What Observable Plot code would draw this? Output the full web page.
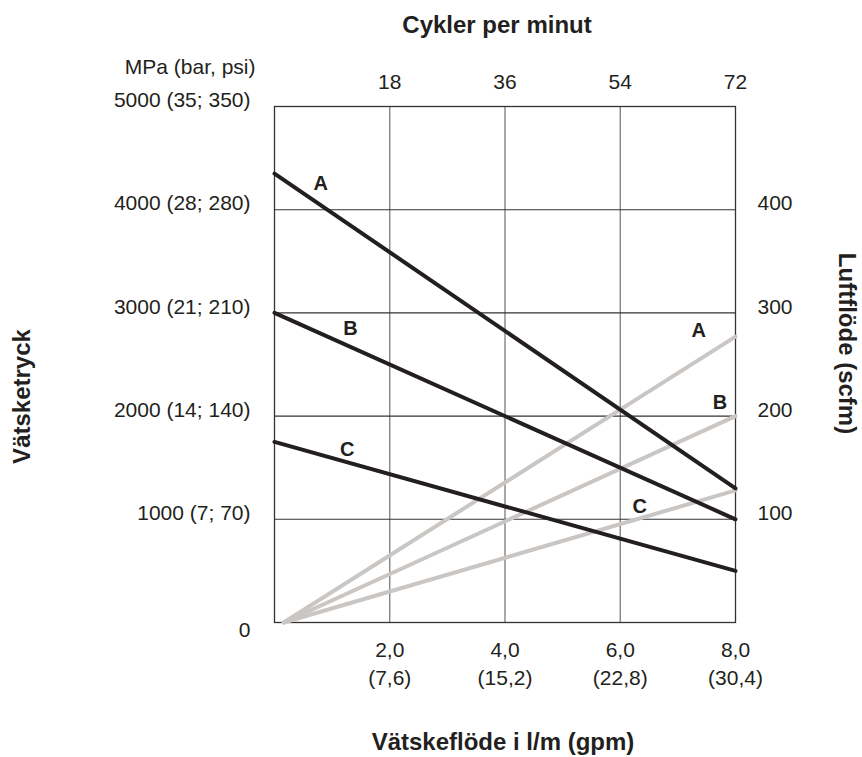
<!DOCTYPE html>
<html>
<head>
<meta charset="utf-8">
<script src="https://cdn.jsdelivr.net/npm/d3@7"></script>
<script src="https://cdn.jsdelivr.net/npm/@observablehq/plot@0.6"></script>
<style>
  html, body { margin: 0; padding: 0; background: #fff; }
  #chart svg { display: block; font-family: "Liberation Sans", Arial, Helvetica, sans-serif; }
</style>
</head>
<body>
<div id="chart"></div>
<script>
// ---- data ----
const flowTicks = [2, 4, 6, 8];
const flowLabels = ["2,0", "4,0", "6,0", "8,0"];
const flowLabelsGpm = ["(7,6)", "(15,2)", "(22,8)", "(30,4)"];
const cycleLabels = ["18", "36", "54", "72"];
const pressureTicks = [0, 1000, 2000, 3000, 4000, 5000];
const pressureLabels = ["0", "1000 (7; 70)", "2000 (14; 140)", "3000 (21; 210)", "4000 (28; 280)", "5000 (35; 350)"];
const airTicks = [100, 200, 300, 400];
const series = ["A", "B", "C"];

// fluid pressure lines (black): flow l/m -> pressure
const pressureFlow = [0, 8];
const pressureA = [4350, 1300];
const pressureB = [3000, 1000];
const pressureC = [1750, 500];

// air flow lines (grey): flow l/m -> scfm
const airFlow = [0.16, 8];
const airA = [0, 277];
const airB = [0, 200];
const airC = [0, 128];

// series label anchors (data units)
const pressureLabelFlow = [0.8, 1.32, 1.26];
const pressureLabelValue = [4250, 2850, 1680];
const airLabelFlow = [7.36, 7.73, 6.34];
const airLabelValue = [283, 213, 112];

// ---- build tables ----
const pressureSeries = [pressureA, pressureB, pressureC];
const airSeries = [airA, airB, airC];
const pressureRows = series.flatMap((s, i) => pressureFlow.map((f, j) => ({s, flow: f, p: pressureSeries[i][j]})));
const airRows = series.flatMap((s, i) => airFlow.map((f, j) => ({s, flow: f, scfm: airSeries[i][j]})));
const pressureLabelRows = series.map((s, i) => ({s, flow: pressureLabelFlow[i], p: pressureLabelValue[i]}));
const airLabelRows = series.map((s, i) => ({s, flow: airLabelFlow[i], scfm: airLabelValue[i]}));
const leftRows = pressureTicks.map((v, i) => ({v, label: pressureLabels[i]}));
const bottomRows = flowTicks.map((v, i) => ({v, label: flowLabels[i] + "\n" + flowLabelsGpm[i]}));
const topRows = flowTicks.map((v, i) => ({v, label: cycleLabels[i]}));

const ink = "#231f20";
const grey = "#c9c6c4";
const scfmToY = d => d * 10;

const chart = Plot.plot({
  width: 862,
  height: 757,
  marginLeft: 274,
  marginRight: 127,
  marginTop: 106,
  marginBottom: 135,
  style: {fontFamily: '"Liberation Sans", Arial, Helvetica, sans-serif', background: "#fff"},
  x: {domain: [0, 8], axis: null},
  y: {domain: [0, 5000], axis: null},
  marks: [
    Plot.gridX(flowTicks.slice(0, 3), {stroke: "#7a7a7a", strokeOpacity: 1, strokeWidth: 1.3}),
    Plot.gridY(pressureTicks.slice(1, 5), {stroke: "#333", strokeOpacity: 1, strokeWidth: 1.1}),
    Plot.frame({stroke: "#333", strokeWidth: 1.3}),
    Plot.line(airRows, {x: "flow", y: d => scfmToY(d.scfm), z: "s", stroke: grey, strokeWidth: 4}),
    Plot.line(pressureRows, {x: "flow", y: "p", z: "s", stroke: ink, strokeWidth: 4}),
    Plot.text(pressureLabelRows, {x: "flow", y: "p", text: "s", fontSize: 20, fontWeight: "bold", fill: ink}),
    Plot.text(airLabelRows, {x: "flow", y: d => scfmToY(d.scfm), text: "s", fontSize: 20, fontWeight: "bold", fill: ink}),
    // left axis
    Plot.text(leftRows.filter(d => d.v !== 0), {y: "v", text: "label", frameAnchor: "left", textAnchor: "end", lineAnchor: "middle", dx: -24, dy: -6, fontSize: 21, fill: ink}),
    Plot.text(leftRows.filter(d => d.v === 0), {y: "v", text: "label", frameAnchor: "left", textAnchor: "end", lineAnchor: "middle", dx: -24, dy: 8, fontSize: 21, fill: ink}),
    Plot.text(["MPa (bar, psi)"], {frameAnchor: "top-left", textAnchor: "end", lineAnchor: "middle", dx: -19, dy: -39, fontSize: 21, fill: ink}),
    // right axis
    Plot.text(airTicks, {y: scfmToY, text: d => String(d), frameAnchor: "right", textAnchor: "start", lineAnchor: "middle", dx: 22, dy: -6, fontSize: 21, fill: ink}),
    // bottom axis
    Plot.text(bottomRows, {x: "v", text: "label", frameAnchor: "bottom", textAnchor: "middle", lineAnchor: "top", lineHeight: 1.35, dy: 14, fontSize: 21, fill: ink}),
    // top axis
    Plot.text(topRows, {x: "v", text: "label", frameAnchor: "top", textAnchor: "middle", lineAnchor: "middle", dy: -24, fontSize: 21, fill: ink}),
    // titles
    Plot.text(["Cykler per minut"], {frameAnchor: "top", textAnchor: "middle", lineAnchor: "middle", dx: -8, dy: -81, fontSize: 24, fontWeight: "bold", fill: ink}),
    Plot.text(["Vätskeflöde i l/m (gpm)"], {frameAnchor: "bottom", textAnchor: "middle", lineAnchor: "middle", dx: -2, dy: 120, fontSize: 24, fontWeight: "bold", fill: ink}),
    Plot.text(["Vätsketryck"], {frameAnchor: "left", textAnchor: "middle", lineAnchor: "middle", rotate: -90, dx: -252, dy: 32, fontSize: 24, fontWeight: "bold", fill: ink}),
    Plot.text(["Luftflöde (scfm)"], {frameAnchor: "right", textAnchor: "middle", lineAnchor: "middle", rotate: 90, dx: 111, dy: -21, fontSize: 24, fontWeight: "bold", fill: ink})
  ]
});
document.getElementById("chart").append(chart);
</script>
</body>
</html>
